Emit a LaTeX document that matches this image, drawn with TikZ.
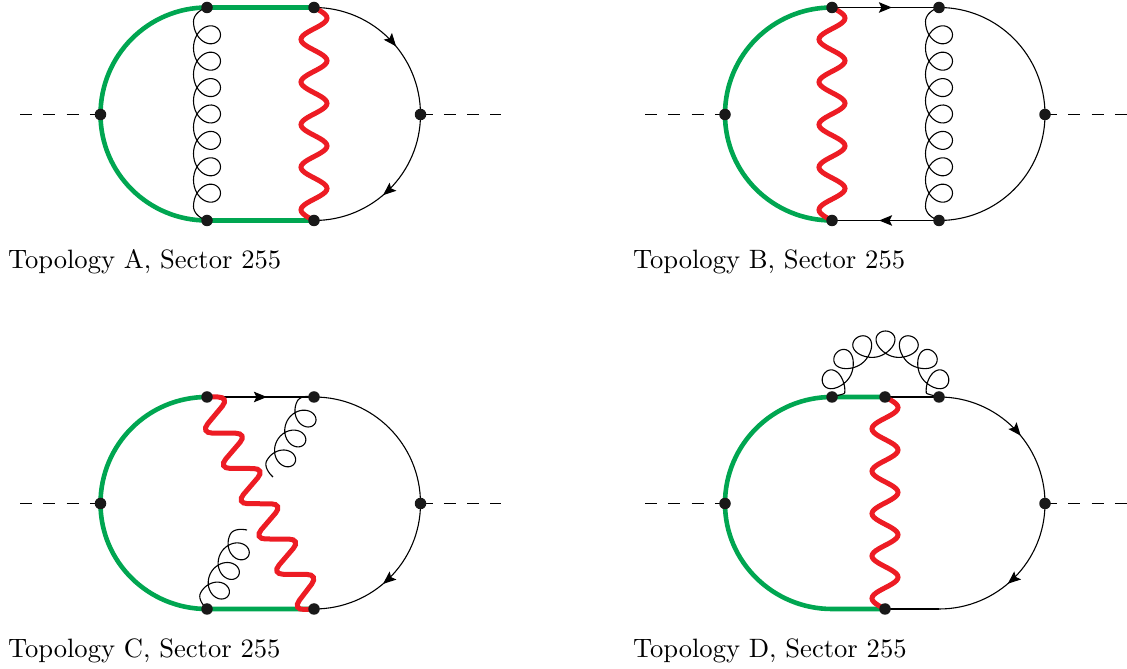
\documentclass[tikz,border=0pt]{standalone}
\usepackage{xcolor}
\usetikzlibrary{arrows.meta,calc,backgrounds,decorations.markings}
\definecolor{topogreen}{RGB}{0,166,81}
\definecolor{topored}{RGB}{237,28,36}
\tikzset{
    vert/.style={circle,fill=black!90,inner sep=0pt,minimum size=11.5pt},
    scalar/.style={dash pattern=on 12pt off 11.3pt,line width=1.1pt},
    fermion/.style={line width=1.1pt},
    massive/.style={topogreen,line width=4.6pt},
    photon/.style={topored,line width=5pt},
    photonstair/.style={topored,line width=5pt,rounded corners=12pt},
    gluon/.style={line width=1.1pt},
    midarrow/.style={postaction={decorate,decoration={markings,mark=at position #1 with {\arrow{Stealth[length=13pt,width=10.5pt,inset=2.5pt]}}}}},
    toplabel/.style={anchor=base west,scale=2.657,inner sep=0pt},
}
% from, to (straight down)
\newcommand{\photonline}[2]{%
    \draw[photon] let \p0=(#1.center), \p1=(#2.center) in
        plot[variable=\t,domain=0:1800,samples=121]
        ({\x0+13*sin(\t)},{\y0+(\y1-\y0)*(\t/1800)});
}
% from, to, loops, amplitude, loop size, size at the ends
\newcommand{\gluonline}[6]{%
    \pgfmathsetmacro\gluonend{360*#3+90}
    \pgfmathtruncatemacro\gluonsamples{36*#3+19}
    \def\gluonu{(\n3/4+#6+\n3*(\t/360)+((\t<0||\t>360*#3)?#6:#5)*sin(\t))}
    \def\gluonv{(-#4*cos(\t))}
    \draw[gluon] let \p0=(#1.center), \p1=(#2.center),
        \n1={atan2(\y1-\y0,\x1-\x0)}, \n2={veclen(\x1-\x0,\y1-\y0)},
        \n3={(\n2-2*#6)/(#3+0.5)} in
        plot[variable=\t,domain=-90:\gluonend,samples=\gluonsamples]
        ({\x0+\gluonu*cos(\n1)-\gluonv*sin(\n1)},{\y0+\gluonu*sin(\n1)+\gluonv*cos(\n1)});
}
% the same over a half circle, from left to right
\newcommand{\gluonarc}[6]{%
    \pgfmathsetmacro\gluonend{360*#3+90}
    \pgfmathtruncatemacro\gluonsamples{36*#3+19}
    \def\gluonu{(\n3/4+#6+\n3*(\t/360)+((\t<0||\t>360*#3)?#6:#5)*sin(\t))}
    \def\gluonv{(-#4*cos(\t))}
    \draw[gluon] let \p0=(#1.center), \p1=(#2.center),
        \n1={(\x1-\x0)/2}, \n2={3.14159*\n1},
        \n3={(\n2-2*#6)/(#3+0.5)} in
        plot[variable=\t,domain=-90:\gluonend,samples=\gluonsamples]
        ({\x0+\n1+(\n1+\gluonv)*cos(180-deg(\gluonu/\n1))},{\y0+(\n1+\gluonv)*sin(180-deg(\gluonu/\n1))});
}
\begin{document}
\begin{tikzpicture}[x=1pt,y=1pt]
    \useasboundingbox (0,0) rectangle (1127,669);

    % Topology A
    \node[vert] (a1) at (100.5,554.5) {};
    \node[vert] (a2) at (207,661.5) {};
    \node[vert] (a3) at (314,661.5) {};
    \node[vert] (a4) at (420.5,554.5) {};
    \node[vert] (a5) at (314,448.5) {};
    \node[vert] (a6) at (207,448.5) {};
    \coordinate (ain) at (20,554.5);
    \coordinate (aout) at (501,554.5);
    \begin{scope}[on background layer]
        \draw[scalar] (ain) -- (a1.center);
        \draw[scalar] (a4.center) -- (aout);
        \draw[massive] (a1.center) to[out=90,in=180] (a2.center) -- (a3.center);
        \draw[massive] (a1.center) to[out=-90,in=180] (a6.center) -- (a5.center);
        \draw[fermion,midarrow=0.56] (a3.center) to[out=0,in=90] (a4.center);
        \draw[fermion,midarrow=0.55] (a4.center) to[out=-90,in=0] (a5.center);
        \gluonline{a2}{a6}{7}{13.5}{15}{7.5}
        \photonline{a3}{a5}
    \end{scope}
    \node[toplabel] (alabel) at (7.5,400.5) {Topology A, Sector 255};

    % Topology B
    \node[vert] (b1) at (725,554.5) {};
    \node[vert] (b2) at (832,661.5) {};
    \node[vert] (b3) at (939,661.5) {};
    \node[vert] (b4) at (1045,554.5) {};
    \node[vert] (b5) at (939,448.5) {};
    \node[vert] (b6) at (832,448.5) {};
    \coordinate (bin) at (645,554.5);
    \coordinate (bout) at (1127,554.5);
    \begin{scope}[on background layer]
        \draw[scalar] (bin) -- (b1.center);
        \draw[scalar] (b4.center) -- (bout);
        \draw[massive] (b1.center) to[out=90,in=180] (b2.center);
        \draw[massive] (b1.center) to[out=-90,in=180] (b6.center);
        \draw[fermion,midarrow=0.56] (b2.center) -- (b3.center);
        \draw[fermion,midarrow=0.56] (b5.center) -- (b6.center);
        \draw[fermion] (b3.center) to[out=0,in=90] (b4.center);
        \draw[fermion] (b4.center) to[out=-90,in=0] (b5.center);
        \photonline{b2}{b6}
        \gluonline{b3}{b5}{7}{13.5}{15}{7.5}
    \end{scope}
    \node[toplabel] (blabel) at (632.5,400.5) {Topology B, Sector 255};

    % Topology C
    \node[vert] (c1) at (100.5,165.5) {};
    \node[vert] (c2) at (207,272) {};
    \node[vert] (c3) at (314,272) {};
    \node[vert] (c4) at (420.5,165.5) {};
    \node[vert] (c5) at (314,60) {};
    \node[vert] (c6) at (207,60) {};
    \coordinate (cin) at (20,165.5);
    \coordinate (cout) at (501,165.5);
    \coordinate (cg1) at (273,192);
    \coordinate (cg2) at (247,139);
    \begin{scope}[on background layer]
        \draw[scalar] (cin) -- (c1.center);
        \draw[scalar] (c4.center) -- (cout);
        \draw[massive] (c1.center) to[out=90,in=180] (c2.center);
        \draw[massive] (c1.center) to[out=-90,in=180] (c6.center) -- (c5.center);
        \draw[fermion,midarrow=0.56] (c2.center) -- (c3.center);
        \draw[fermion] (c3.center) to[out=0,in=90] (c4.center);
        \draw[fermion,midarrow=0.55] (c4.center) to[out=-90,in=0] (c5.center);
        \gluonline{c3}{cg1}{3}{13}{13}{5.8}
        \gluonline{cg2}{c6}{3}{13}{13}{5.8}
        \draw[photonstair] (c2.center) -- (230,272) -- (200,236)
            -- (247.8,235.7) -- (217.8,200.7) -- (265.6,200.4) -- (235.6,165.4)
            -- (283.4,165.1) -- (253.4,130.1) -- (301.2,129.8) -- (271.2,94.8)
            -- (319,94.5) -- (292,59) -- (c5.center);
    \end{scope}
    \node[toplabel] (clabel) at (7.5,11) {Topology C, Sector 255};

    % Topology D
    \node[vert] (d1) at (725,165.5) {};
    \node[vert] (d2) at (832,272) {};
    \node[vert] (d3) at (885,272) {};
    \node[vert] (d4) at (939,272) {};
    \node[vert] (d5) at (1045,165.5) {};
    \node[vert] (d7) at (885,60) {};
    \coordinate (d6) at (939,60);
    \coordinate (d8) at (832,60);
    \coordinate (din) at (645,165.5);
    \coordinate (dout) at (1127,165.5);
    \begin{scope}[on background layer]
        \draw[scalar] (din) -- (d1.center);
        \draw[scalar] (d5.center) -- (dout);
        \draw[massive] (d1.center) to[out=90,in=180] (d2.center) -- (d3.center);
        \draw[massive] (d1.center) to[out=-90,in=180] (d8) -- (d7.center);
        \draw[fermion] (d3.center) -- (d4.center);
        \draw[fermion,midarrow=0.56] (d4.center) to[out=0,in=90] (d5.center);
        \draw[fermion,midarrow=0.55] (d5.center) to[out=-90,in=0] (d6);
        \draw[fermion] (d6) -- (d7.center);
        \gluonarc{d2}{d4}{7}{12.5}{14}{0}
        \photonline{d3}{d7}
    \end{scope}
    \node[toplabel] (dlabel) at (632.5,11) {Topology D, Sector 255};
\end{tikzpicture}
\end{document}
